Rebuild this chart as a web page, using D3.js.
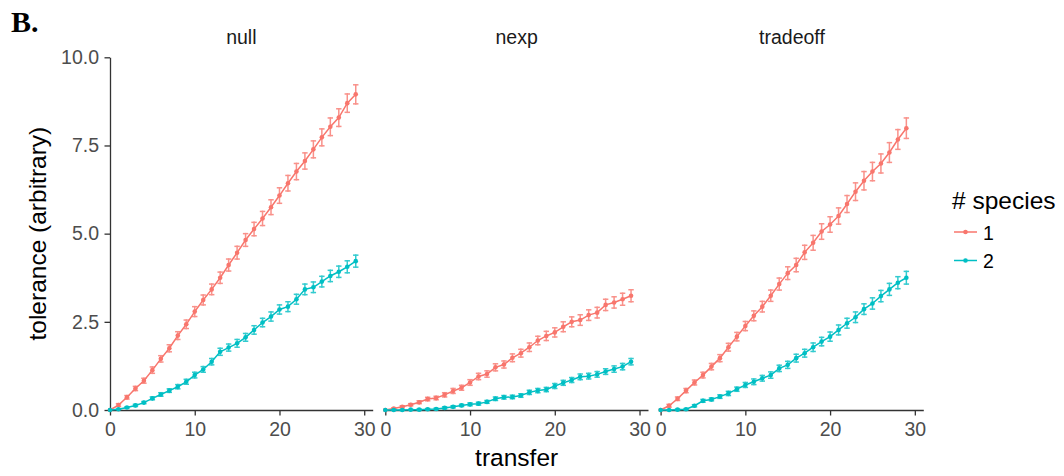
<!DOCTYPE html>
<html>
<head>
<meta charset="utf-8">
<script src="https://cdn.jsdelivr.net/npm/d3@7/dist/d3.min.js"></script>
<style>
  html, body { margin: 0; padding: 0; background: #ffffff; }
  svg { display: block; font-family: "Liberation Sans", Arial, Helvetica, sans-serif; }
</style>
</head>
<body>
<svg id="chart" width="1064" height="476"></svg>
<script>
// ---------------- data ----------------
const panels = ["null", "nexp", "tradeoff"];
const speciesLabels = ["1", "2"];
const transfers = [0,1,2,3,4,5,6,7,8,9,10,11,12,13,14,15,16,17,18,19,20,21,22,23,24,25,26,27,28,29];

const null1 = [0,0.14,0.36,0.61,0.83,1.13,1.45,1.75,2.11,2.43,2.79,3.12,3.42,3.75,4.11,4.46,4.82,5.13,5.43,5.75,6.08,6.43,6.76,7.06,7.39,7.73,8.03,8.29,8.70,8.95];
const null2 = [0,0.02,0.07,0.13,0.21,0.33,0.44,0.55,0.66,0.80,0.99,1.15,1.37,1.65,1.77,1.89,2.06,2.27,2.48,2.65,2.85,2.93,3.14,3.42,3.48,3.64,3.80,3.92,4.06,4.22];
const nexp1 = [0,0.04,0.09,0.15,0.22,0.31,0.34,0.43,0.54,0.63,0.78,0.95,1.02,1.21,1.29,1.48,1.61,1.78,1.97,2.10,2.20,2.36,2.50,2.55,2.69,2.76,2.98,3.05,3.14,3.24];
const nexp2 = [0,0,0,0.01,0.01,0.02,0.03,0.06,0.09,0.13,0.16,0.18,0.23,0.32,0.36,0.37,0.41,0.50,0.55,0.58,0.68,0.77,0.85,0.94,0.96,1.01,1.09,1.16,1.23,1.37];
const tradeoff1 = [0,0.12,0.32,0.55,0.78,0.99,1.23,1.47,1.78,2.08,2.38,2.67,2.93,3.24,3.57,3.88,4.11,4.47,4.74,5.06,5.26,5.50,5.84,6.19,6.50,6.76,6.99,7.30,7.67,7.99];
const tradeoff2 = [0,0,0.01,0.02,0.12,0.26,0.30,0.38,0.47,0.59,0.71,0.80,0.90,0.99,1.18,1.28,1.47,1.61,1.78,1.94,2.08,2.27,2.46,2.63,2.86,3.02,3.23,3.42,3.61,3.75];

// half-widths of the error bars
const null1Err = [0,0.04,0.05,0.06,0.07,0.09,0.09,0.10,0.11,0.12,0.14,0.14,0.15,0.16,0.17,0.18,0.18,0.19,0.20,0.21,0.22,0.22,0.23,0.23,0.24,0.24,0.25,0.25,0.26,0.27];
const null2Err = [0,0.01,0.02,0.03,0.03,0.04,0.05,0.05,0.06,0.07,0.08,0.08,0.09,0.10,0.10,0.11,0.11,0.12,0.12,0.13,0.13,0.14,0.14,0.15,0.15,0.15,0.16,0.16,0.17,0.17];
const nexp1Err = [0,0.02,0.03,0.03,0.04,0.05,0.05,0.06,0.07,0.07,0.08,0.09,0.09,0.10,0.10,0.11,0.11,0.12,0.12,0.13,0.13,0.14,0.14,0.15,0.15,0.15,0.16,0.16,0.17,0.17];
const nexp2Err = [0,0.01,0.01,0.01,0.02,0.02,0.02,0.03,0.03,0.03,0.04,0.04,0.04,0.05,0.05,0.05,0.05,0.06,0.06,0.06,0.07,0.07,0.07,0.08,0.08,0.08,0.08,0.09,0.09,0.09];
const tradeoff1Err = [0,0.04,0.05,0.06,0.07,0.08,0.09,0.10,0.11,0.12,0.13,0.14,0.15,0.16,0.17,0.18,0.19,0.20,0.21,0.22,0.22,0.23,0.24,0.25,0.26,0.26,0.27,0.28,0.28,0.29];
const tradeoff2Err = [0,0.01,0.02,0.02,0.03,0.04,0.04,0.05,0.06,0.06,0.07,0.08,0.08,0.09,0.09,0.10,0.11,0.11,0.12,0.12,0.13,0.14,0.14,0.15,0.15,0.16,0.16,0.17,0.17,0.18];

const yTicks = [0, 2.5, 5, 7.5, 10];
const xTicks = [0, 10, 20, 30];

const seriesValues = {
  "null": [null1, null2],
  "nexp": [nexp1, nexp2],
  "tradeoff": [tradeoff1, tradeoff2]
};
const seriesErrors = {
  "null": [null1Err, null2Err],
  "nexp": [nexp1Err, nexp2Err],
  "tradeoff": [tradeoff1Err, tradeoff2Err]
};

// ---------------- layout ----------------
const colors = d3.scaleOrdinal().domain(speciesLabels).range(["#F8766D", "#00BFC4"]);
const svg = d3.select("#chart");
svg.append("rect").attr("width", 1064).attr("height", 476).attr("fill", "#ffffff");

const panelScale = d3.scaleBand().domain(panels).range([110, 923.3]).paddingInner(0.0458).paddingOuter(0);
const bw = panelScale.bandwidth();
const x = d3.scaleLinear().domain([0, 31]).range([0, bw]);
const y = d3.scaleLinear().domain([0, 10]).range([410, 57.3]);

const axisColor = "#333333";
const tickTextColor = "#4D4D4D";
const tickFont = 19.5;

// B. label
svg.append("text")
  .attr("x", 11).attr("y", 32)
  .attr("font-family", "'Liberation Serif', 'Times New Roman', serif")
  .attr("font-weight", "bold")
  .attr("font-size", 30)
  .attr("fill", "#000")
  .text("B.");

panels.forEach((p, pi) => {
  const g = svg.append("g").attr("transform", `translate(${panelScale(p)},0)`);

  // strip label
  g.append("text")
    .attr("x", bw / 2).attr("y", 44)
    .attr("text-anchor", "middle")
    .attr("font-size", 19.5)
    .attr("fill", "#1A1A1A")
    .text(p);

  // x axis
  const xa = g.append("g").attr("transform", `translate(0,${y(0)})`)
    .call(d3.axisBottom(x).tickValues(xTicks).tickFormat(d3.format("d")).tickSize(5.5).tickSizeOuter(0).tickPadding(7));
  xa.select(".domain").attr("stroke", axisColor).attr("stroke-width", 1.3);
  xa.selectAll(".tick line").attr("stroke", axisColor).attr("stroke-width", 1.3);
  xa.selectAll(".tick text").attr("fill", tickTextColor).attr("font-size", tickFont).attr("font-family", "'Liberation Sans', Arial, sans-serif");

  if (pi === 0) {
    const ya = g.append("g")
      .call(d3.axisLeft(y).tickValues(yTicks).tickFormat(d3.format(".1f")).tickSize(5.5).tickSizeOuter(0).tickPadding(5.5));
    ya.select(".domain").attr("stroke", axisColor).attr("stroke-width", 1.3);
    ya.selectAll(".tick line").attr("stroke", axisColor).attr("stroke-width", 1.3);
    ya.selectAll(".tick text").attr("fill", tickTextColor).attr("font-size", tickFont).attr("font-family", "'Liberation Sans', Arial, sans-serif");
  }

  const line = d3.line().x((d, i) => x(transfers[i])).y(d => y(d));

  speciesLabels.forEach((s, si) => {
    const vals = seriesValues[p][si];
    const errs = seriesErrors[p][si];
    const col = colors(s);
    const sg = g.append("g");

    // error bars
    const eb = sg.append("g").attr("stroke", col).attr("stroke-width", 1.5).attr("opacity", 0.8);
    vals.forEach((v, i) => {
      const e = errs[i];
      if (e <= 0) return;
      const t = transfers[i];
      eb.append("line").attr("x1", x(t)).attr("x2", x(t)).attr("y1", y(v - e) + 0.75).attr("y2", y(v + e) - 0.75);
      eb.append("line").attr("x1", x(t - 0.32)).attr("x2", x(t + 0.32)).attr("y1", y(v - e)).attr("y2", y(v - e));
      eb.append("line").attr("x1", x(t - 0.32)).attr("x2", x(t + 0.32)).attr("y1", y(v + e)).attr("y2", y(v + e));
    });

    sg.append("path")
      .attr("d", line(vals))
      .attr("fill", "none")
      .attr("stroke", col)
      .attr("stroke-width", 1.5);

    sg.selectAll("circle").data(vals).enter().append("circle")
      .attr("cx", (d, i) => x(transfers[i]))
      .attr("cy", d => y(d))
      .attr("r", 2.3)
      .attr("fill", col);
  });
});

// axis titles
svg.append("text")
  .attr("x", (110 + 923.3) / 2).attr("y", 466)
  .attr("text-anchor", "middle")
  .attr("font-size", 24.5)
  .attr("fill", "#000")
  .text("transfer");

svg.append("text")
  .attr("transform", `translate(46,${(y(0) + y(10)) / 2}) rotate(-90)`)
  .attr("text-anchor", "middle")
  .attr("font-size", 24.5)
  .attr("fill", "#000")
  .text("tolerance (arbitrary)");

// legend
const lg = svg.append("g");
lg.append("text")
  .attr("x", 952).attr("y", 209)
  .attr("font-size", 24.5)
  .attr("fill", "#000")
  .text("# species");

const keyY = d3.scalePoint().domain(speciesLabels).range([232, 260.5]);
speciesLabels.forEach(s => {
  const ky = keyY(s);
  lg.append("line").attr("x1", 954).attr("x2", 977).attr("y1", ky).attr("y2", ky)
    .attr("stroke", colors(s)).attr("stroke-width", 1.5);
  lg.append("circle").attr("cx", 965.5).attr("cy", ky).attr("r", 2.3).attr("fill", colors(s));
  lg.append("text")
    .attr("x", 983).attr("y", ky + 7.5)
    .attr("font-size", 19.5)
    .attr("fill", "#000")
    .text(s);
});
</script>
</body>
</html>
